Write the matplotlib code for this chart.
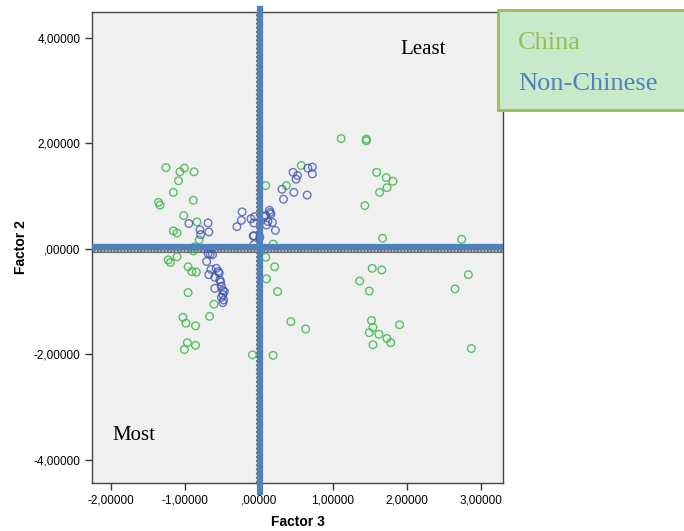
"""
Factor 3 vs Factor 2 scatter, China vs Non-Chinese respondents.
"""

import matplotlib
matplotlib.use("Agg")
import matplotlib.pyplot as plt
from matplotlib.patches import Rectangle

# green points (China)
china_x = [-1.26, -1.07, -1.01, -0.88, -1.09, -1.16, -1.36, -1.34, -0.89, -1.02,
           -0.84, -1.16, -1.11, -0.81, -0.87, -0.89, -1.11, -1.23, -1.20, -0.96,
           -0.91, -0.85, -0.96, -0.61, -0.67, -1.03, -0.99, -0.86, -0.97, -0.86,
           -1.01, -0.09, 0.09, 0.09, 0.10, 1.11, 1.45, 1.45, 0.57, 1.59,
           1.72, 1.81, 1.73, 1.63, 1.43, 0.37, 1.67, 2.74, 0.19, 0.21,
           0.25, 1.53, 1.66, 1.36, 1.49, 2.83, 2.65, 0.43, 0.63, 1.52,
           1.54, 1.90, 1.49, 1.62, 1.73, 1.78, 1.54, 2.87, 0.19]
china_y = [1.54, 1.46, 1.53, 1.46, 1.29, 1.07, 0.88, 0.83, 0.92, 0.63,
           0.51, 0.34, 0.30, 0.17, 0.04, -0.04, -0.15, -0.21, -0.26, -0.34,
           -0.43, -0.44, -0.83, -1.05, -1.28, -1.30, -1.41, -1.46, -1.78, -1.83,
           -1.91, -2.01, 1.20, -0.16, -0.57, 2.09, 2.08, 2.05, 1.58, 1.45,
           1.35, 1.28, 1.16, 1.07, 0.82, 1.20, 0.20, 0.18, 0.09, -0.34,
           -0.81, -0.37, -0.40, -0.61, -0.80, -0.49, -0.76, -1.38, -1.52, -1.36,
           -1.49, -1.44, -1.59, -1.62, -1.70, -1.78, -1.82, -1.89, -2.02]

# blue points (Non-Chinese)
other_x = [-0.95, -0.80, -0.79, -0.69, -0.68, -0.23, -0.24, -0.30, -0.11, -0.06,
           -0.07, 0.09, 0.14, 0.16, 0.12, 0.18, 0.10, 0.22, -0.07, 0.01,
           0.07, 0.15, -0.08, -0.07, 0.46, 0.52, 0.50, 0.66, 0.72, 0.72,
           0.31, 0.33, 0.47, 0.65, -0.69, -0.63, -0.66, -0.71, -0.65, -0.58,
           -0.55, -0.68, -0.60, -0.53, -0.52, -0.60, -0.51, -0.49, -0.49, -0.51,
           -0.48, -0.49, -0.47, -0.54]
other_y = [0.48, 0.36, 0.27, 0.49, 0.32, 0.70, 0.54, 0.42, 0.57, 0.61,
           0.49, 0.63, 0.73, 0.66, 0.52, 0.50, 0.45, 0.35, 0.25, 0.22,
           0.61, 0.69, 0.24, 0.08, 1.45, 1.39, 1.32, 1.53, 1.55, 1.42,
           1.13, 0.94, 1.07, 1.02, -0.09, -0.11, -0.10, -0.24, -0.39, -0.37,
           -0.43, -0.49, -0.54, -0.59, -0.63, -0.75, -0.71, -0.79, -0.87, -0.92,
           -0.97, -1.02, -0.81, -0.46]

x_ticks = [-2, -1, 0, 1, 2, 3]
x_labels = ["-2,00000", "-1,00000", ",00000", "1,00000", "2,00000", "3,00000"]
y_ticks = [-4, -2, 0, 2, 4]
y_labels = ["-4,00000", "-2,00000", ",00000", "2,00000", "4,00000"]

legend_names = ["China", "Non-Chinese"]

plt.rcParams["font.family"] = ["Liberation Sans", "DejaVu Sans"]

fig = plt.figure(figsize=(6.84, 5.31), dpi=100)
ax = fig.add_axes([0.1345, 0.0904, 0.601, 0.887])
ax.set_facecolor("#f0f0f0")

ax.scatter(china_x, china_y, s=30, facecolors="none", edgecolors="#3cb84a",
           linewidths=1.0, alpha=0.85, zorder=3)
ax.scatter(other_x, other_y, s=30, facecolors="none", edgecolors="#3a4db3",
           linewidths=1.0, alpha=0.75, zorder=3)

# reference lines at zero (grey checkered) and the overlaid blue quadrant lines
ax.axhline(-0.04, color="#6e6e6e", lw=3, zorder=2)
ax.axhline(-0.04, color="#c4c4c4", lw=1.2, ls=(0, (1, 1)), zorder=2)
ax.axvline(-0.03, color="#6e6e6e", lw=1.5, ls=(0, (1, 1)), zorder=2)
ax.axhline(0.04, color="#4f81bd", lw=4.5, zorder=4)
ax.axvline(0.01, color="#4f81bd", lw=4.5, ymin=-0.02, ymax=1.006,
           clip_on=False, zorder=4)

ax.text(2.22, 3.77, "Least", family="Liberation Serif", fontsize=15, ha="center",
        va="center")
ax.text(-1.70, -3.53, "Most", family="Liberation Serif", fontsize=15, ha="center",
        va="center")

ax.set_xlim(-2.26, 3.30)
ax.set_ylim(-4.44, 4.49)
ax.set_xticks(x_ticks)
ax.set_xticklabels(x_labels)
ax.set_yticks(y_ticks)
ax.set_yticklabels(y_labels)
ax.tick_params(direction="out", length=5, width=1, labelsize=8.5, color="#333333")
for spine in ax.spines.values():
    spine.set_color("#444444")
    spine.set_linewidth(1)

ax.set_xlabel("Factor 3", fontsize=10, fontweight="bold", labelpad=6)
ax.set_ylabel("Factor 2", fontsize=10, fontweight="bold", labelpad=4)

# legend box, partly off the right edge
box = Rectangle((498 / 684, 1 - 110 / 531), 200 / 684, 100 / 531,
                transform=fig.transFigure, facecolor="#c8eacb",
                edgecolor="#9bbb59", lw=2, zorder=5)
fig.patches.append(box)
fig.text(518 / 684, 1 - 43 / 531, legend_names[0], color="#9bbb59",
         family="Liberation Serif", fontsize=19, va="center", zorder=6)
fig.text(518 / 684, 1 - 84 / 531, legend_names[1], color="#4f81bd",
         family="Liberation Serif", fontsize=19, va="center", zorder=6)

plt.savefig("out.png", dpi=100)
